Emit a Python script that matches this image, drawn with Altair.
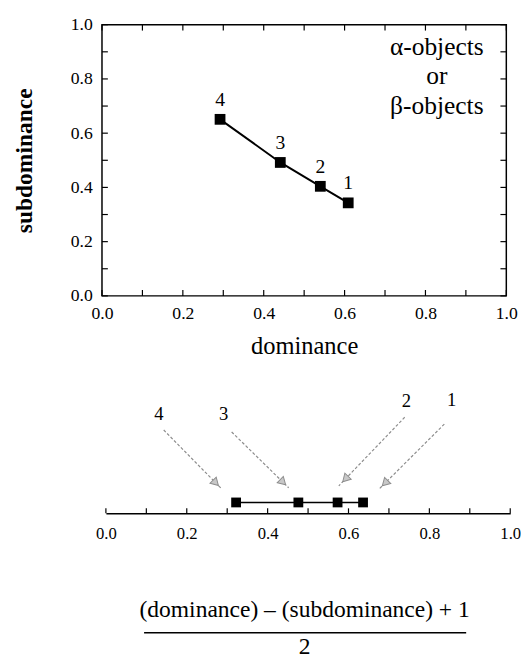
import altair as alt
import pandas as pd

# ---------------- data ----------------
point_labels = ["1", "2", "3", "4"]
dominance = [0.609, 0.540, 0.441, 0.292]
subdominance = [0.343, 0.404, 0.492, 0.651]
projection = [0.636, 0.573, 0.476, 0.322]

tick_values = [0.0, 0.1, 0.2, 0.3, 0.4, 0.5, 0.6, 0.7, 0.8, 0.9, 1.0]
label_values = [0.0, 0.2, 0.4, 0.6, 0.8, 1.0]

legend_lines = ["\u03b1-objects", "or", "\u03b2-objects"]

# callout labels and arrows of the lower number line (x in axis units, y in px above the axis)
callout_x = [0.855, 0.743, 0.291, 0.131]
callout_y = [116, 115, 101, 101]
arrow_x0 = [0.837, 0.739, 0.311, 0.143]
arrow_y0 = [91, 98, 83, 85]
arrow_x1 = [0.674, 0.576, 0.452, 0.286]
arrow_y1 = [24, 28, 26, 25]

formula_numerator = "(dominance) \u2013 (subdominance) + 1"
formula_denominator = "2"

# ---------------- styling ----------------
FONT = "Liberation Serif"
W1, H1 = 413, 277
W2, H2 = 417, 130

top_df = pd.DataFrame({"label": point_labels, "dominance": dominance,
                       "subdominance": subdominance})
ticks_df = pd.DataFrame({"t": tick_values})

xs = alt.Scale(domain=[0, 1], nice=False, zero=False)
ys = alt.Scale(domain=[0, 1], nice=False, zero=False)

x_axis = alt.Axis(values=label_values, format=".1f", tickSize=0, domain=False, grid=False,
                  labelFlush=False,
                  labelFont=FONT, labelFontSize=18, labelPadding=9, labelColor="black",
                  title="dominance", titleFont=FONT, titleFontSize=25,
                  titleFontWeight="normal", titlePadding=12, titleColor="black")
y_axis = alt.Axis(values=label_values, format=".1f", tickSize=0, domain=False, grid=False,
                  labelFlush=False,
                  labelFont=FONT, labelFontSize=18, labelPadding=10, labelColor="black",
                  title="subdominance", titleFont=FONT, titleFontSize=24,
                  titleFontWeight="bold", titlePadding=34, titleColor="black")

X = alt.X("dominance:Q", scale=xs, axis=x_axis)
Y = alt.Y("subdominance:Q", scale=ys, axis=y_axis)

base = alt.Chart(top_df)
line = base.mark_line(color="black", strokeWidth=2).encode(x=X, y=Y)
squares = base.mark_square(size=121, color="black", opacity=1).encode(x=X, y=Y)
labels = base.mark_text(dy=-20, font=FONT, fontSize=20, color="black").encode(
    x=X, y=Y, text="label:N")

tb = alt.Chart(ticks_df)
TX = alt.X("t:Q", scale=xs, axis=x_axis)
TY = alt.Y("t:Q", scale=ys, axis=y_axis)
tick_style = dict(color="black", strokeWidth=1.2)
t_bottom = tb.mark_rule(**tick_style).encode(x=TX, y=alt.value(H1), y2=alt.value(H1 - 6))
t_top = tb.mark_rule(**tick_style).encode(x=TX, y=alt.value(0), y2=alt.value(6))
t_left = tb.mark_rule(**tick_style).encode(y=TY, x=alt.value(0), x2=alt.value(6))
t_right = tb.mark_rule(**tick_style).encode(y=TY, x=alt.value(W1), x2=alt.value(W1 - 6))

legend = alt.Chart(pd.DataFrame({"a": [0]})).mark_text(
    text=legend_lines, lineHeight=30, font=FONT, fontSize=26, color="black",
    align="center", baseline="middle").encode(x=alt.value(342), y=alt.value(23))

top = alt.layer(t_bottom, t_top, t_left, t_right, line, squares, labels, legend).properties(
    width=W1, height=H1, view=alt.ViewBackground(stroke="black", strokeWidth=1.5))

# ---------------- lower number line ----------------
bxs = alt.Scale(domain=[0, 1], range=[4, W2], nice=False, zero=False)
bys = alt.Scale(domain=[0, H2], nice=False, zero=False)
b_axis = alt.Axis(values=label_values, format=".1f", tickSize=0, domain=True,
                  domainColor="black", domainWidth=1.6, grid=False, labelFlush=False,
                  labelFont=FONT, labelFontSize=17, labelPadding=13, labelColor="black",
                  title=None)

proj_df = pd.DataFrame({"p": projection, "label": point_labels})
BX = alt.X("p:Q", scale=bxs, axis=b_axis)
pline = alt.Chart(proj_df).mark_line(color="black", strokeWidth=1.5).encode(
    x=BX, y=alt.value(H2 - 11))
psq = alt.Chart(proj_df).mark_square(size=100, color="black", opacity=1).encode(
    x=BX, y=alt.value(H2 - 11))

b_ticks = alt.Chart(ticks_df).mark_rule(color="black", strokeWidth=1.2).encode(
    x=alt.X("t:Q", scale=bxs, axis=b_axis), y=alt.value(H2), y2=alt.value(H2 - 5))

call_df = pd.DataFrame({"cx": callout_x, "cy": callout_y, "label": point_labels})
callouts = alt.Chart(call_df).mark_text(font=FONT, fontSize=19, color="black").encode(
    x=alt.X("cx:Q", scale=bxs, axis=b_axis),
    y=alt.Y("cy:Q", scale=bys, axis=None), text="label:N")

arrow_df = pd.DataFrame({"x0": arrow_x0, "y0": arrow_y0, "x1": arrow_x1, "y1": arrow_y1})
arrows = alt.Chart(arrow_df).mark_rule(color="#8c8c8c", strokeWidth=1.2,
                                       strokeDash=[3, 2]).encode(
    x=alt.X("x0:Q", scale=bxs, axis=b_axis), x2="x1:Q",
    y=alt.Y("y0:Q", scale=bys, axis=None), y2="y1:Q")
heads = alt.Chart(arrow_df).transform_calculate(
    ang="(atan2((datum.x1 - datum.x0) * 413, (datum.y1 - datum.y0)) * 180 / PI + 360) % 360",
    hx="datum.x1 - 0.1 * (datum.x1 - datum.x0)",
    hy="datum.y1 - 0.1 * (datum.y1 - datum.y0)",
).mark_point(shape="triangle-up", size=80, filled=True, fill="#c8c8c8",
             stroke="#8c8c8c", strokeWidth=1, opacity=1).encode(
    x=alt.X("hx:Q", scale=bxs, axis=b_axis),
    y=alt.Y("hy:Q", scale=bys, axis=None),
    angle=alt.Angle("ang:Q", scale=None))

one = pd.DataFrame({"a": [0]})
num = alt.Chart(one).mark_text(text=formula_numerator, font=FONT, fontSize=24,
                               color="black", align="center", baseline="middle").encode(
    x=alt.value(207), y=alt.value(H2 + 99))
frac = alt.Chart(one).mark_rule(color="black", strokeWidth=1.5).encode(
    x=alt.value(43), x2=alt.value(372), y=alt.value(H2 + 122))
den = alt.Chart(one).mark_text(text=formula_denominator, font=FONT, fontSize=24,
                               color="black", align="center", baseline="middle").encode(
    x=alt.value(207), y=alt.value(H2 + 137))

bottom = alt.layer(b_ticks, arrows, heads, pline, psq, callouts, num, frac, den).properties(
    width=W2, height=H2)

chart = alt.vconcat(top, bottom, spacing=27).properties(
    padding={"left": 4, "top": 0, "right": 0, "bottom": 0}
).configure(
    background="white", font=FONT
).configure_view(
    strokeWidth=0
).configure_axis(
    labelFont=FONT, titleFont=FONT
).configure_text(font=FONT)

chart.save("out.html", embed_options={"renderer": "svg", "actions": False})
